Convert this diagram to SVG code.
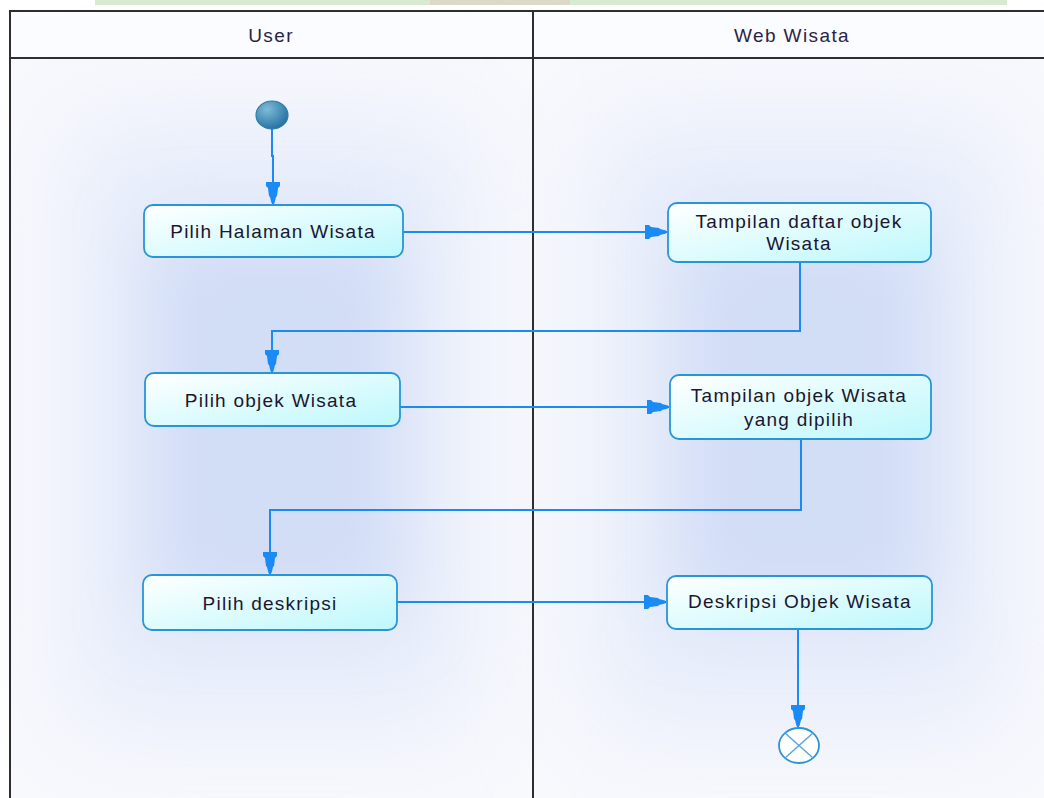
<svg xmlns="http://www.w3.org/2000/svg" width="1044" height="798" viewBox="0 0 1044 798">
  <defs>
    <style>
      .lane-title { font-family: "Liberation Sans", Arial, sans-serif; font-size: 19px; fill: #2a2448; letter-spacing: 1.4px; text-anchor: middle; dominant-baseline: central; }
      .label { font-family: "Liberation Sans", Arial, sans-serif; font-size: 19px; fill: #1c1630; letter-spacing: 1.25px; text-anchor: middle; dominant-baseline: central; }
      .action { fill: url(#actionFill); stroke: #2796d6; stroke-width: 1.8; }
      .flow { fill: none; stroke: #1a8af5; stroke-width: 2; marker-end: url(#arrow); }
      .frame { fill: none; stroke: #2e2e2e; stroke-width: 2; }
    </style>
    <linearGradient id="actionFill" x1="0" y1="0" x2="1" y2="1">
      <stop offset="0" stop-color="#ffffff"/>
      <stop offset="1" stop-color="#bdf8fc"/>
    </linearGradient>
    <radialGradient id="startFill" cx="0.35" cy="0.3" r="0.8">
      <stop offset="0" stop-color="#7dbcd8"/>
      <stop offset="1" stop-color="#1d6b9c"/>
    </radialGradient>
    <filter id="haze" x="-50%" y="-50%" width="200%" height="200%">
      <feGaussianBlur stdDeviation="35"/>
    </filter>
    <filter id="hazeWide" x="-50%" y="-50%" width="200%" height="200%">
      <feGaussianBlur stdDeviation="55"/>
    </filter>
    <!-- stepped, tapered arrowhead; tip sits on the path end -->
    <marker id="arrow" viewBox="-23 -8 24 16" markerWidth="24" markerHeight="16" refX="0" refY="0" orient="auto" markerUnits="userSpaceOnUse">
      <path d="M-22,-7 H-18 L-16,-5 L-8,-4 L-7,-3 L-1,-1.5 L0,0 L-1,1.5 L-7,3 L-8,4 L-16,5 L-18,7 H-22 Z" fill="#1a8af5"/>
    </marker>
  </defs>

  <!-- page background and faint strip at the very top -->
  <rect x="0" y="0" width="1044" height="798" fill="#ffffff"/>
  <rect x="95" y="0" width="912" height="5" fill="#d9ead2"/>
  <rect x="430" y="0" width="140" height="5" fill="#ddd9c8"/>

  <!-- swimlane bodies with soft blue glow -->
  <g id="lanes">
    <rect x="10" y="58" width="1040" height="745" fill="#f8f9fd"/>
    <g clip-path="none">
      <rect x="70" y="120" width="400" height="610" fill="#e6ecfa" filter="url(#hazeWide)"/>
      <rect x="150" y="230" width="250" height="380" fill="#d2ddf6" filter="url(#haze)"/>
      <rect x="595" y="120" width="410" height="610" fill="#e6ecfa" filter="url(#hazeWide)"/>
      <rect x="680" y="230" width="250" height="380" fill="#d2ddf6" filter="url(#haze)"/>
    </g>
    <rect x="10" y="11" width="1040" height="47" fill="#fbfcff"/>
  </g>

  <!-- lane frame and headers -->
  <g id="lane-frame">
    <path class="frame" d="M10,803 V11 H1050 M10,58 H1050 M533,11 V803"/>
    <text class="lane-title" x="271" y="35">User</text>
    <text class="lane-title" x="792" y="35">Web Wisata</text>
  </g>

  <!-- control flows -->
  <g id="connectors">
    <path class="flow" d="M272,129 V156 H273 V204"/>
    <path class="flow" d="M403,232 H667"/>
    <path class="flow" d="M800,262 V331 H272 V372"/>
    <path class="flow" d="M400,407 H669"/>
    <path class="flow" d="M801,440 V510 H270 V574"/>
    <path class="flow" d="M396,602 H666"/>
    <path class="flow" d="M798,629 V727"/>
  </g>

  <g id="start">
    <ellipse cx="272" cy="115" rx="16" ry="14" fill="url(#startFill)" stroke="#2a7cae" stroke-width="1.2"/>
  </g>

  <g id="pilih-halaman">
    <rect class="action" x="144" y="205" width="259" height="52" rx="9"/>
    <text class="label" x="273" y="231">Pilih Halaman Wisata</text>
  </g>

  <g id="tampilan-daftar">
    <rect class="action" x="668" y="203" width="263" height="59" rx="9"/>
    <text class="label" x="799" y="221">Tampilan daftar objek</text>
    <text class="label" x="799" y="243">Wisata</text>
  </g>

  <g id="pilih-objek">
    <rect class="action" x="145" y="373" width="255" height="53" rx="9"/>
    <text class="label" x="271" y="400">Pilih objek Wisata</text>
  </g>

  <g id="tampilan-objek">
    <rect class="action" x="670" y="375" width="261" height="64" rx="9"/>
    <text class="label" x="799" y="395">Tampilan objek Wisata</text>
    <text class="label" x="799" y="419">yang dipilih</text>
  </g>

  <g id="pilih-deskripsi">
    <rect class="action" x="143" y="575" width="254" height="55" rx="9"/>
    <text class="label" x="270" y="603">Pilih deskripsi</text>
  </g>

  <g id="deskripsi-objek">
    <rect class="action" x="667" y="576" width="265" height="53" rx="9"/>
    <text class="label" x="800" y="601">Deskripsi Objek Wisata</text>
  </g>

  <g id="end">
    <ellipse cx="799" cy="745.5" rx="20" ry="17.5" fill="#ffffff" stroke="#2f93d3" stroke-width="1.8"/>
    <path d="M785,733 L813,758 M813,733 L785,758" stroke="#5aa8d8" stroke-width="1.5"/>
  </g>
</svg>
